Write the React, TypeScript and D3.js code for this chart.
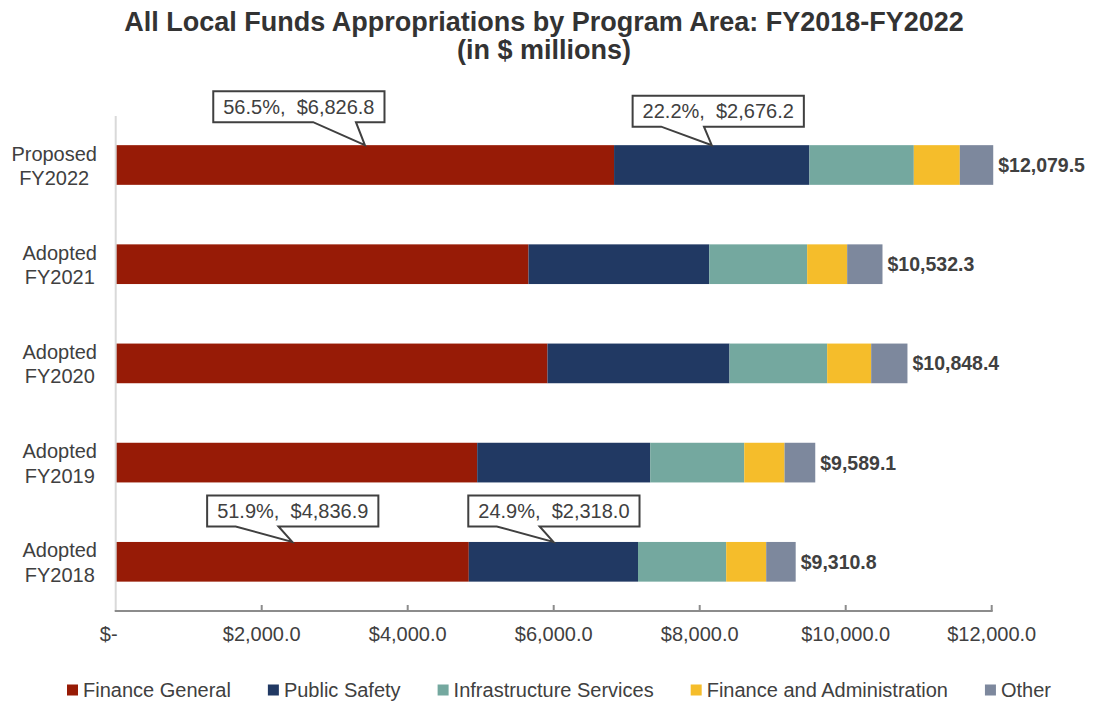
import { useEffect, useRef } from 'react'
import * as d3 from 'd3'

const yearLabels = ['Proposed FY2022', 'Adopted FY2021', 'Adopted FY2020', 'Adopted FY2019', 'Adopted FY2018']
const seriesNames = ['Finance General', 'Public Safety', 'Infrastructure Services', 'Finance and Administration', 'Other']
const seriesColors = ['#971b06', '#213963', '#74a89f', '#f5bd2b', '#7d889d']

const financeGeneral = [6826.8, 5655, 5915, 4952, 4836.9]
const publicSafety = [2676.2, 2475, 2493, 2370, 2318.0]
const infrastructure = [1430, 1342, 1338, 1288, 1208]
const financeAdmin = [630, 548, 603, 552, 548]
const other = [458, 484, 497, 421, 404]
const totals = [12079.5, 10532.3, 10848.4, 9589.1, 9310.8]

const xTicks = [0, 2000, 4000, 6000, 8000, 10000, 12000]

// callout label placement (box centre relative to the tip on top of the segment)
const callouts = [
  { year: 0, series: 0, dx: -66, dy: -38.5 },
  { year: 0, series: 1, dx: 6.5, dy: -34 },
  { year: 4, series: 0, dx: 0.5, dy: -31 },
  { year: 4, series: 1, dx: 0.5, dy: -31 },
]

const FONT = '"Liberation Sans", Arial, sans-serif'
const TEXT = '#404040'

export default function App() {
  const svgRef = useRef<SVGSVGElement>(null)
  const width = 1093
  const height = 703

  useEffect(() => {
    if (!svgRef.current) return
    const svg = d3.select(svgRef.current)
    svg.selectAll('*').remove()

    const seriesValues = [financeGeneral, publicSafety, infrastructure, financeAdmin, other]
    const rows = yearLabels.map((label, i) => {
      const row: any = { label }
      seriesNames.forEach((s, si) => { row[s] = seriesValues[si][i] })
      return row
    })
    const stacked = d3.stack().keys(seriesNames)(rows)

    const x = d3.scaleLinear().domain([0, 12000]).range([115.7, 991.7])
    const y = d3.scaleBand().domain(yearLabels).range([115.4, 611.4]).paddingInner(0.6).paddingOuter(0.3)
    const fmt = (v: number) => (v === 0 ? '$-' : d3.format('$,.1f')(v))

    // title
    const title = svg.append('text').attr('text-anchor', 'middle').attr('font-family', FONT)
      .attr('font-weight', 'bold').attr('font-size', 27).attr('fill', '#333')
    title.append('tspan').attr('x', 544).attr('y', 31).text('All Local Funds Appropriations by Program Area: FY2018-FY2022')
    title.append('tspan').attr('x', 544).attr('y', 59).text('(in $ millions)')

    // bars
    stacked.forEach((layer, si) => {
      svg.append('g').selectAll('rect').data(layer).join('rect')
        .attr('x', d => x(d[0]))
        .attr('y', d => y(d.data.label as any)!)
        .attr('width', d => x(d[1]) - x(d[0]))
        .attr('height', y.bandwidth())
        .attr('fill', seriesColors[si])
    })

    // axes
    svg.append('line').attr('x1', x(0)).attr('x2', x(0)).attr('y1', 116).attr('y2', 611)
      .attr('stroke', '#d9d9d9').attr('stroke-width', 2)
    svg.append('line').attr('x1', x(0) - 1).attr('x2', x(12000) + 1).attr('y1', 611).attr('y2', 611)
      .attr('stroke', '#8c8c8c').attr('stroke-width', 2)
    xTicks.filter(t => t > 0).forEach(t => {
      svg.append('line').attr('x1', x(t)).attr('x2', x(t)).attr('y1', 605).attr('y2', 611)
        .attr('stroke', '#8c8c8c').attr('stroke-width', 2)
    })
    xTicks.forEach(t => {
      svg.append('text').attr('x', x(t) + (t === 0 ? -7 : 0)).attr('y', 641).attr('text-anchor', 'middle')
        .attr('font-family', FONT).attr('font-size', 20).attr('fill', TEXT).text(fmt(t))
    })

    // category labels: lines centred on each other, block right-aligned
    yearLabels.forEach(label => {
      const cy = y(label)! + y.bandwidth() / 2
      const t = svg.append('text').attr('text-anchor', 'middle').attr('font-family', FONT)
        .attr('font-size', 20).attr('fill', TEXT)
      const parts = label.split(' ')
      const spans = parts.map((p, li) => t.append('tspan').attr('y', cy - 4.5 + li * 24.5).text(p))
      const maxW = d3.max(spans, s => (s.node() as SVGTSpanElement).getComputedTextLength()) || 0
      spans.forEach(s => s.attr('x', 97 - maxW / 2))
    })

    // totals
    totals.forEach((tot, i) => {
      const end = stacked[stacked.length - 1][i][1]
      svg.append('text').attr('x', x(end) + 5).attr('y', y(yearLabels[i])! + y.bandwidth() / 2 + 7)
        .attr('font-family', FONT).attr('font-size', 19.5).attr('font-weight', 'bold').attr('fill', TEXT)
        .text(fmt(tot))
    })

    // callouts
    callouts.forEach(c => {
      const seg = stacked[c.series][c.year]
      const tipX = x((seg[0] + seg[1]) / 2)
      const tipY = y(yearLabels[c.year])!
      const value = seriesValues[c.series][c.year]
      const pct = (value / totals[c.year]) * 100
      const cx = tipX + c.dx
      const cy = tipY + c.dy
      const g = svg.append('g')
      const path = g.append('path')
      const txt = g.append('text').attr('x', cx).attr('y', cy + 7).attr('text-anchor', 'middle')
        .attr('font-family', FONT).attr('font-size', 20).attr('fill', TEXT)
        .style('white-space', 'pre').text(`${pct.toFixed(1)}%,  ${fmt(value)}`)
      const tw = (txt.node() as SVGTextElement).getComputedTextLength()
      const w = tw + 20
      const h = 31
      const left = cx - w / 2
      const top = cy - h / 2
      const bottom = top + h
      const [b1, b2] = tipX < cx ? [2 / 12, 5 / 12] : [7 / 12, 10 / 12]
      const p = d3.path()
      p.moveTo(left, top)
      p.lineTo(left + w, top)
      p.lineTo(left + w, bottom)
      p.lineTo(left + w * b2, bottom)
      p.lineTo(tipX, tipY)
      p.lineTo(left + w * b1, bottom)
      p.lineTo(left, bottom)
      p.closePath()
      path.attr('d', p.toString()).attr('fill', '#fff').attr('stroke', TEXT).attr('stroke-width', 2)
        .attr('stroke-linejoin', 'miter')
    })

    // legend
    const legend = svg.append('g')
    let lx = 67
    seriesNames.forEach((name, i) => {
      legend.append('rect').attr('x', lx).attr('y', 684.5).attr('width', 11).attr('height', 11).attr('fill', seriesColors[i])
      const t = legend.append('text').attr('x', lx + 16).attr('y', 697).attr('font-family', FONT)
        .attr('font-size', 20).attr('fill', TEXT).text(name)
      lx += 16 + (t.node() as SVGTextElement).getComputedTextLength() + 37
    })
  }, [])

  return (
    <svg ref={svgRef} width={width} height={height}
      style={{ position: 'absolute', left: 0, top: 0, background: '#fff' }} />
  )
}
